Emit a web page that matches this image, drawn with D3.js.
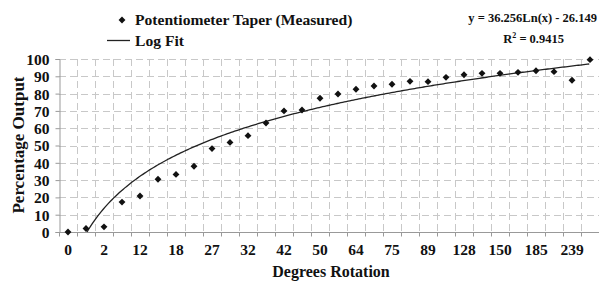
<!DOCTYPE html>
<html>
<head>
<meta charset="utf-8">
<script src="https://cdn.jsdelivr.net/npm/d3@7"></script>
<style>
  body { margin: 0; background: #fff; }
  text { font-family: "Liberation Serif", "Times New Roman", serif; font-weight: bold; fill: #111; }
</style>
</head>
<body>
<svg id="chart" width="599" height="282"></svg>
<script>
// 30 measurements, only every other category is labelled on the axis
const categoryIndex = d3.range(1, 31);
const tickLabels = ["0", "2", "12", "18", "27", "32", "42", "50", "64", "75", "89", "128", "150", "185", "239"];
const measured = [0, 2, 3, 17.3, 20.8, 30.5, 33.3, 38, 48.2, 51.8, 55.7, 63, 70, 70.5, 77.3,
  79.8, 82.5, 84.4, 85.4, 87.1, 86.9, 89.4, 90.9, 91.7, 91.7, 92.3, 93.2, 92.7, 87.7, 99.6];
const yTicks = [0, 10, 20, 30, 40, 50, 60, 70, 80, 90, 100];
const fitA = 36.256, fitB = -26.149;

const svg = d3.select("#chart");
const plotL = 59, plotR = 599, plotT = 59, plotB = 232;

const x = d3.scaleBand().domain(categoryIndex).range([plotL, plotR]);
const y = d3.scaleLinear().domain([0, 100]).range([plotB, plotT]);

// grid
const grid = svg.append("g").attr("stroke", "#c8c8c8").attr("stroke-width", 1).attr("stroke-dasharray", "7,4");
grid.selectAll(".h").data(yTicks.filter(d => d > 0)).join("line")
  .attr("x1", plotL).attr("x2", plotR)
  .attr("y1", d => Math.round(y(d)) + 0.5).attr("y2", d => Math.round(y(d)) + 0.5);
grid.selectAll(".v").data(categoryIndex.slice(1)).join("line")
  .attr("x1", d => Math.round(x(d)) + 0.5).attr("x2", d => Math.round(x(d)) + 0.5)
  .attr("y1", plotT).attr("y2", plotB);

// axes
const yAxis = svg.append("g").attr("transform", `translate(${plotL + 0.5},0)`)
  .call(d3.axisLeft(y).tickValues(yTicks).tickSize(4).tickPadding(6));
yAxis.select(".domain").attr("stroke", "#999");
yAxis.selectAll(".tick line").attr("stroke", "#999");
yAxis.selectAll("text").attr("font-size", 15.5).attr("dy", "0.35em");

const xAxisG = svg.append("g").attr("transform", `translate(0,${plotB + 0.5})`);
xAxisG.append("line").attr("x1", plotL).attr("x2", plotR).attr("stroke", "#999");
xAxisG.selectAll("line.tk").data(categoryIndex.concat([31])).join("line").attr("class", "tk")
  .attr("x1", d => Math.round(plotL + (d - 1) * x.step()) + 0.5)
  .attr("x2", d => Math.round(plotL + (d - 1) * x.step()) + 0.5)
  .attr("y1", 0).attr("y2", 4).attr("stroke", "#999");
xAxisG.selectAll("text").data(tickLabels).join("text")
  .attr("x", (d, i) => x(categoryIndex[i * 2]) + x.bandwidth() / 2)
  .attr("y", 22).attr("text-anchor", "middle").attr("font-size", 15.5).text(d => d);

// log fit
const fitPts = d3.range(2.057, 30.001, 0.1).map(v => [v, fitA * Math.log(v) + fitB]);
const xc = v => x(1) + x.bandwidth() / 2 + (v - 1) * x.step();
svg.append("path").datum(fitPts)
  .attr("d", d3.line().x(d => xc(d[0])).y(d => y(d[1])))
  .attr("fill", "none").attr("stroke", "#222").attr("stroke-width", 1.3);

// measured points
const diamond = d3.symbol().type(d3.symbolDiamond2).size(30);
svg.selectAll(".pt").data(measured).join("path")
  .attr("transform", (d, i) => `translate(${x(categoryIndex[i]) + x.bandwidth() / 2},${y(d)})`)
  .attr("d", diamond).attr("fill", "#111");

// titles
svg.append("text").attr("transform", "translate(24,145) rotate(-90)")
  .attr("text-anchor", "middle").attr("font-size", 17).text("Percentage Output");
svg.append("text").attr("x", 331).attr("y", 277)
  .attr("text-anchor", "middle").attr("font-size", 16).text("Degrees Rotation");

// legend
svg.append("path").attr("transform", "translate(122,20)").attr("d", diamond).attr("fill", "#111");
svg.append("text").attr("x", 135).attr("y", 25).attr("font-size", 15.6).text("Potentiometer Taper (Measured)");
svg.append("line").attr("x1", 107).attr("x2", 130).attr("y1", 40.5).attr("y2", 40.5)
  .attr("stroke", "#222").attr("stroke-width", 1.3);
svg.append("text").attr("x", 135).attr("y", 46).attr("font-size", 15.6).text("Log Fit");

// trendline equation
svg.append("text").attr("x", 597).attr("y", 22).attr("text-anchor", "end").attr("font-size", 12.5)
  .text("y = 36.256Ln(x) - 26.149");
const r2 = svg.append("text").attr("x", 564).attr("y", 43).attr("text-anchor", "end").attr("font-size", 12.5);
r2.append("tspan").text("R");
r2.append("tspan").attr("dy", -5).attr("font-size", 8).text("2");
r2.append("tspan").attr("dy", 5).text(" = 0.9415");
</script>
</body>
</html>
